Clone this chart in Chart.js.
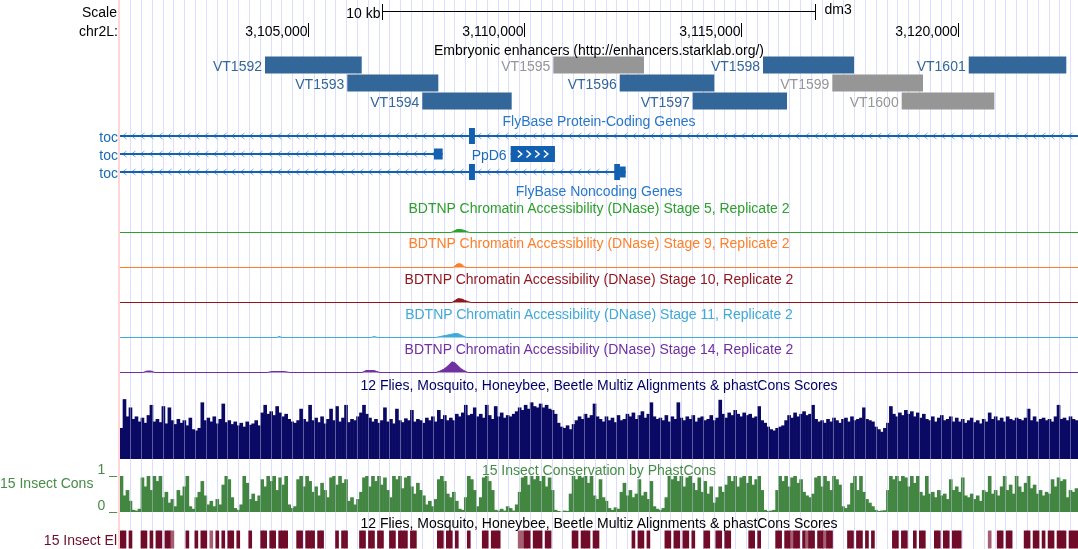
<!DOCTYPE html>
<html>
<head>
<meta charset="utf-8">
<title>chr2L:3,100,650-3,122,770</title>
<script src="https://cdn.jsdelivr.net/npm/chart.js@4.4.1/dist/chart.umd.min.js"></script>
<style>
  html, body { margin: 0; padding: 0; background: #fff; }
  #browser { position: relative; width: 1078px; height: 549px; overflow: hidden;
             font: 14px 'Liberation Sans', Arial, sans-serif; color: #000; }
  #browser canvas { position: absolute; left: 0; top: 0; }
  .lbl { position: absolute; line-height: 14px; white-space: nowrap; }
  .title { left: 120px; width: 958px; text-align: center; }
  .side { left: 0; width: 118px; text-align: right; }
  #edge { position: absolute; left: 118px; top: 0; width: 2px; height: 549px; background: rgb(255, 214, 214); }
</style>
</head>
<body>
<div id="browser">
  <canvas id="chart" width="1078" height="549"></canvas>
  <div id="edge"></div>
  <div class="lbl side" style="top:5px;width:117px">Scale</div>
  <div class="lbl side" style="top:24px">chr2L:</div>
  <div class="lbl title" style="top:43px">Embryonic enhancers (http://enhancers.starklab.org/)</div>
  <div class="lbl title" style="top:114px;color:rgb(40,120,200)">FlyBase Protein-Coding Genes</div>
  <div class="lbl side" style="top:130px;color:rgb(26,106,186)">toc</div>
  <div class="lbl side" style="top:148px;color:rgb(26,106,186)">toc</div>
  <div class="lbl side" style="top:166px;color:rgb(26,106,186)">toc</div>
  <div class="lbl title" style="top:184px;color:rgb(40,120,200)">FlyBase Noncoding Genes</div>
  <div class="lbl title" style="top:201px;color:rgb(44,160,44)">BDTNP Chromatin Accessibility (DNase) Stage 5, Replicate 2</div>
  <div class="lbl title" style="top:236px;color:rgb(255,127,39)">BDTNP Chromatin Accessibility (DNase) Stage 9, Replicate 2</div>
  <div class="lbl title" style="top:272px;color:rgb(145,22,28)">BDTNP Chromatin Accessibility (DNase) Stage 10, Replicate 2</div>
  <div class="lbl title" style="top:307px;color:rgb(65,170,215)">BDTNP Chromatin Accessibility (DNase) Stage 11, Replicate 2</div>
  <div class="lbl title" style="top:342px;color:rgb(112,48,160)">BDTNP Chromatin Accessibility (DNase) Stage 14, Replicate 2</div>
  <div class="lbl title" style="top:378px;color:rgb(0,0,100)">12 Flies, Mosquito, Honeybee, Beetle Multiz Alignments &amp; phastCons Scores</div>
  <div class="lbl title" style="top:463px;color:rgb(70,140,70)">15 Insect Conservation by PhastCons</div>
  <div class="lbl" style="top:476px;left:0;color:rgb(70,140,70)">15 Insect Cons</div>
  <div class="lbl title" style="top:516px">12 Flies, Mosquito, Honeybee, Beetle Multiz Alignments &amp; phastCons Scores</div>
  <div class="lbl side" style="top:533px;width:117px;color:rgb(112,12,42)">15 Insect El</div>
</div>
<script>
// visible window, chr2L (dm3)
const X_MIN = 3100650;
const X_MAX = 3122770;
const RULER_TICKS = [3105000, 3110000, 3115000, 3120000];
const SCALE_BAR = [3106710, 3116710];

// Embryonic enhancers (VT tiles)
const ENH_NAME = ['VT1592', 'VT1593', 'VT1594', 'VT1595', 'VT1596', 'VT1597', 'VT1598', 'VT1599', 'VT1600', 'VT1601'];
const ENH_START = [3103998, 3105898, 3107630, 3110655, 3112188, 3113874, 3115497, 3117097, 3118699, 3120247];
const ENH_END = [3106231, 3108000, 3109694, 3112749, 3114372, 3116051, 3117598, 3119191, 3120838, 3122500];
const ENH_ROW = [1, 2, 3, 1, 2, 3, 1, 2, 3, 1];
const ENH_ACTIVE = [1, 1, 1, 0, 1, 1, 1, 0, 0, 1];

// FlyBase transcripts
const GENE_NAME = ['toc', 'toc', 'toc', 'PpD6'];
const GENE_ROW = [1, 2, 3, 2];
const GENE_STRAND = ['-', '-', '-', '+'];
const GENE_START = [3100400, 3100400, 3100400, 3109670];
const GENE_END = [3123000, 3108100, 3112326, 3110693];

const EXON_GENE = [0, 1, 2, 2, 2, 3];
const EXON_START = [3108708, 3107900, 3108708, 3112062, 3112194, 3109670];
const EXON_END = [3108846, 3108100, 3108846, 3112194, 3112326, 3110693];
const EXON_CODING = [1, 0, 1, 1, 0, 1];

// BDTNP DNase signal, [position, signal]
const DNASE_S5 = [[3100650, 0], [3108292, 0], [3108361, 1.5], [3108431, 3], [3108523, 3], [3108615, 2], [3108685, 0.5], [3108731, 0], [3122770, 0]];
const DNASE_S9 = [[3100650, 0], [3108338, 0], [3108384, 1.5], [3108431, 3.5], [3108500, 4], [3108546, 3], [3108592, 1], [3108639, 0], [3122770, 0]];
const DNASE_S10 = [[3100650, 0], [3108315, 0], [3108384, 2], [3108454, 4], [3108546, 3.5], [3108615, 2], [3108685, 1], [3108754, 0], [3122770, 0]];
const DNASE_S11 = [[3100650, 0], [3104275, 0], [3104321, 1.2], [3104390, 0], [3106445, 0], [3106515, 1], [3106607, 0],
  [3107946, 0], [3108039, 1], [3108154, 2], [3108269, 3], [3108361, 4], [3108454, 4], [3108523, 2.5], [3108592, 1], [3108662, 0], [3122770, 0]];
const DNASE_S14 = [[3100650, 0], [3101181, 0], [3101273, 1.5], [3101366, 1.5], [3101458, 0], [3104044, 0], [3104160, 1], [3104437, 1], [3104575, 0],
  [3106238, 0], [3106330, 2], [3106515, 2], [3106653, 0], [3107946, 0], [3108039, 1.5], [3108131, 3.5], [3108200, 6], [3108269, 9],
  [3108315, 11], [3108384, 10], [3108454, 7], [3108523, 4], [3108592, 2], [3108685, 0], [3122770, 0]];

// Multiz / phastCons summary, 320 equal windows across the view (percent of track height)
const MULTIZ = [
  48, 93, 66, 80, 62, 66, 58, 64, 56, 68,  84, 58, 62, 57, 82, 55, 80, 60, 54, 62,
  56, 60, 52, 64, 46, 44, 48, 88, 60, 64,  58, 66, 55, 62, 86, 57, 60, 54, 58, 52,
  56, 50, 58, 53, 55, 60, 52, 72, 84, 70,  74, 68, 82, 72, 66, 70, 62, 58, 56, 60,
  78, 62, 58, 84, 60, 64, 57, 66, 55, 62,  78, 60, 82, 58, 64, 84, 57, 62, 60, 66,
  72, 84, 70, 64, 58, 62, 56, 60, 80, 58,  62, 55, 78, 60, 57, 63, 60, 76, 58, 62,
  60, 56, 64, 60, 66, 58, 76, 62, 68, 60,  64, 60, 70, 66, 72, 84, 68, 70, 80, 66,
  70, 64, 84, 68, 62, 82, 66, 72, 64, 68,  66, 70, 74, 80, 76, 84, 78, 88, 82, 80,
  86, 80, 84, 78, 76, 70, 56, 50, 48, 52,  46, 54, 60, 66, 62, 70, 64, 68, 86, 66,
  62, 58, 66, 60, 64, 57, 68, 60, 62, 70,  66, 72, 62, 68, 74, 64, 70, 88, 66, 62,
  64, 60, 68, 58, 66, 62, 88, 64, 60, 66,  62, 68, 58, 64, 66, 60, 62, 68, 60, 64,
  92, 70, 64, 72, 68, 76, 70, 66, 72, 68,  70, 64, 66, 82, 60, 56, 50, 46, 44, 48,
  50, 52, 60, 68, 64, 72, 66, 70, 74, 68,  70, 84, 62, 58, 60, 56, 62, 58, 64, 60,
  56, 62, 64, 58, 66, 60, 62, 64, 80, 62,  60, 58, 50, 46, 42, 48, 56, 82, 70, 66,
  72, 68, 76, 70, 74, 66, 72, 64, 70, 62,  60, 66, 58, 64, 68, 60, 62, 66, 58, 64,
  58, 62, 56, 60, 64, 57, 60, 55, 62, 58,  72, 62, 66, 60, 64, 58, 66, 62, 60, 64,
  62, 60, 64, 78, 60, 66, 58, 62, 64, 60,  62, 58, 66, 84, 62, 64, 60, 66, 62, 60
];
const PHASTCONS = [
  100, 45, 60, 30, 5, 3, 8, 95, 70, 100,  60, 100, 85, 100, 40, 55, 25, 35, 15, 60,
  45, 70, 100, 15, 8, 40, 55, 85, 45, 20,  30, 15, 35, 20, 75, 100, 90, 40, 10, 5,
  20, 100, 80, 35, 50, 30, 45, 90, 70, 100,  85, 100, 60, 95, 75, 100, 20, 10, 15, 90,
  100, 70, 100, 85, 55, 70, 45, 80, 60, 40,  95, 100, 75, 100, 80, 90, 30, 40, 20, 35,
  55, 95, 100, 70, 100, 85, 100, 75, 95, 60,  40, 100, 90, 100, 65, 95, 100, 70, 50, 80,
  60, 45, 20, 30, 15, 35, 90, 100, 85, 50,  40, 55, 30, 8, 5, 40, 100, 90, 60, 15,
  40, 95, 100, 85, 60, 5, 3, 8, 3, 15,  10, 3, 20, 55, 95, 100, 75, 100, 90, 100,
  85, 100, 70, 95, 60, 5, 2, 0, 3, 2,  50, 100, 90, 100, 95, 100, 80, 100, 45, 35,
  90, 40, 30, 10, 5, 12, 8, 55, 80, 45,  60, 40, 50, 90, 45, 55, 35, 85, 15, 8,
  5, 10, 40, 100, 90, 100, 85, 100, 70, 95,  100, 80, 60, 95, 55, 85, 50, 70, 25, 40,
  70, 55, 75, 100, 85, 100, 70, 95, 100, 80,  100, 75, 90, 100, 60, 5, 2, 3, 5, 60,
  100, 85, 100, 70, 95, 100, 80, 90, 55, 45,  40, 50, 95, 100, 70, 100, 85, 60, 100, 90,
  75, 15, 10, 20, 80, 100, 60, 100, 55, 35,  25, 15, 5, 2, 3, 4, 60, 100, 90, 100,
  85, 100, 95, 70, 100, 80, 100, 55, 45, 100,  50, 55, 40, 60, 45, 50, 35, 90, 60, 70,
  55, 95, 45, 40, 50, 35, 45, 30, 60, 55,  100, 50, 60, 45, 70, 100, 60, 75, 50, 100,
  70, 55, 80, 100, 65, 75, 50, 60, 45, 55,  50, 90, 70, 95, 85, 90, 40, 60, 55, 65
];
// conserved elements per window: 0 none, 1 element, 2 weak element
const ELEMENTS = [
  1, 1, 0, 1, 0, 0, 0, 1, 1, 0,  1, 0, 1, 1, 0, 1, 1, 2, 0, 0,
  0, 0, 1, 0, 0, 1, 0, 1, 1, 0,  2, 0, 1, 0, 1, 0, 1, 1, 0, 1,
  0, 0, 0, 1, 0, 0, 0, 1, 1, 0,  1, 1, 0, 1, 1, 1, 0, 0, 0, 1,
  1, 0, 1, 1, 1, 0, 1, 1, 0, 0,  0, 0, 1, 0, 1, 1, 0, 0, 0, 0,
  1, 1, 0, 1, 1, 0, 1, 1, 0, 0,  1, 1, 0, 1, 1, 1, 0, 1, 1, 0,
  0, 0, 0, 0, 0, 0, 1, 1, 0, 1,  1, 0, 1, 0, 0, 0, 1, 0, 0, 0,
  0, 1, 1, 0, 1, 1, 1, 0, 0, 0,  0, 0, 0, 2, 2, 1, 1, 0, 1, 1,
  1, 0, 1, 1, 0, 0, 0, 0, 0, 0,  0, 1, 1, 0, 1, 1, 1, 0, 1, 1,
  0, 0, 0, 0, 0, 0, 0, 0, 0, 0,  0, 1, 0, 1, 1, 0, 1, 0, 0, 0,
  0, 0, 1, 1, 0, 1, 1, 0, 1, 1,  0, 1, 0, 0, 0, 1, 1, 0, 0, 1,
  1, 0, 1, 1, 0, 0, 0, 0, 0, 0,  1, 1, 0, 1, 0, 0, 0, 0, 0, 1,
  1, 0, 1, 1, 2, 1, 1, 0, 1, 2,  1, 1, 0, 1, 1, 2, 1, 1, 0, 0,
  0, 0, 0, 1, 1, 0, 1, 1, 0, 1,  0, 1, 0, 0, 0, 0, 0, 0, 1, 1,
  0, 1, 1, 0, 0, 1, 0, 1, 1, 0,  0, 0, 1, 1, 0, 1, 1, 0, 1, 1,
  1, 0, 0, 0, 0, 0, 0, 0, 0, 0,  2, 0, 0, 1, 1, 0, 1, 1, 0, 0,
  0, 0, 1, 1, 0, 1, 1, 0, 1, 0,  1, 1, 0, 1, 1, 1, 0, 1, 1, 1
];

// ---- styling ----
const FONT = "14px 'Liberation Sans', Arial, sans-serif";
const C = {
  guide: 'rgb(222,222,255)',
  enh: 'rgb(51,102,153)', enhOff: 'rgb(150,150,150)',
  gene: 'rgb(20,96,176)', arrow: 'rgb(120,170,225)', geneLabel: 'rgb(26,106,186)',
  s5: 'rgb(44,160,44)', s9: 'rgb(255,127,39)', s10: 'rgb(145,22,28)', s11: 'rgb(65,170,215)', s14: 'rgb(112,48,160)',
  navy: 'rgb(10,10,100)', cons: 'rgb(66,134,66)', consText: 'rgb(70,140,70)',
  el: 'rgb(112,12,42)', elLight: 'rgb(165,95,115)'
};
const GUIDE_FIRST = 3100896;
const GUIDE_STEP = 249.5;
const LABEL_AREA = 120;

// vertical layout of the tracks, top to bottom, in pixels
const LAYOUT = [
  ['padTop', 56], ['yEnh', 54], ['padGenes', 17], ['yGene', 54],
  ['padS5', 36], ['yS5', 16], ['padS9', 19], ['yS9', 16], ['padS10', 19], ['yS10', 16],
  ['padS11', 19], ['yS11', 16], ['padS14', 19], ['yS14', 16],
  ['padMz', 22], ['yMz', 64], ['padCons', 17], ['yCons', 36], ['padEl', 18], ['yEl', 19]
];
const RANGE = {
  yEnh: { min: 0.5, max: 3.5, reverse: true },
  yGene: { min: 0.5, max: 3.5, reverse: true },
  yS5: { min: -0.5, max: 16 }, yS9: { min: -0.5, max: 16 }, yS10: { min: -0.5, max: 16 },
  yS11: { min: -0.5, max: 16 }, yS14: { min: -0.5, max: 16 },
  yMz: { min: 0, max: 100 }, yCons: { min: 0, max: 100 }, yEl: { min: -0.05, max: 1.05 }
};

Chart.defaults.font.family = "'Liberation Sans', Arial, sans-serif";
Chart.defaults.font.size = 14;

const scales = {
  x: {
    type: 'linear', min: X_MIN, max: X_MAX, offset: false,
    grid: { color: C.guide, lineWidth: 1, drawTicks: false, offset: false },
    border: { display: false },
    ticks: { display: false },
    afterBuildTicks: s => {
      const t = [];
      for (let v = GUIDE_FIRST; v <= X_MAX; v += GUIDE_STEP) t.push({ value: v });
      s.ticks = t;
    }
  },
  xb: { type: 'category', labels: MULTIZ.map((_, i) => String(i)), display: false, offset: true }
};
// every track axis takes the full label column, so the plot starts right of it
const labelColumn = s => { s.width = LABEL_AREA; s.paddingTop = 0; s.paddingBottom = 0; };
LAYOUT.forEach(([id, h], i) => {
  scales[id] = Object.assign({
    type: 'linear', position: 'left', stack: 'tracks', stackWeight: h,
    weight: LAYOUT.length - i, display: false, offset: false, min: 0, max: 1,
    afterFit: labelColumn
  }, RANGE[id] || {});
});
// the "1 _" / "0 _" labels of the conservation track
Object.assign(scales.yCons, {
  display: true,
  grid: { display: false, drawTicks: false },
  border: { display: false },
  ticks: { color: C.consText, padding: 3, labelOffset: -6, autoSkip: false, callback: v => (v / 100) + ' _' },
  afterBuildTicks: s => { s.ticks = [{ value: 0 }, { value: 100 }]; }
});

const hbar = (axis, color, thick, data) => ({
  type: 'bar', indexAxis: 'y', xAxisID: 'x', yAxisID: axis, data,
  backgroundColor: color, barThickness: thick, grouped: false, inflateAmount: 0, borderWidth: 0
});
const signal = (axis, color, pts) => ({
  type: 'line', xAxisID: 'x', yAxisID: axis, data: pts.map(([x, y]) => ({ x, y })),
  borderColor: color, backgroundColor: color, borderWidth: 1, fill: 'origin',
  pointRadius: 0, tension: 0, clip: false
});
const bins = (axis, data, color) => ({
  type: 'bar', xAxisID: 'xb', yAxisID: axis, data, backgroundColor: color,
  barPercentage: 1, categoryPercentage: 1, grouped: false, borderWidth: 0
});

const exonData = coding => EXON_GENE
  .map((g, k) => ({ x: [EXON_START[k], EXON_END[k]], y: GENE_ROW[g], coding: EXON_CODING[k] }))
  .filter(e => e.coding === coding);

const datasets = [
  hbar('yEnh', ENH_ACTIVE.map(a => a ? C.enh : C.enhOff), 17,
    ENH_NAME.map((n, i) => ({ x: [ENH_START[i], ENH_END[i]], y: ENH_ROW[i] }))),
  hbar('yGene', C.gene, 2, GENE_NAME.map((n, i) => ({ x: [GENE_START[i], GENE_END[i]], y: GENE_ROW[i] }))),
  hbar('yGene', C.gene, 11, exonData(0)),
  hbar('yGene', C.gene, 16, exonData(1)),
  signal('yS5', C.s5, DNASE_S5),
  signal('yS9', C.s9, DNASE_S9),
  signal('yS10', C.s10, DNASE_S10),
  signal('yS11', C.s11, DNASE_S11),
  signal('yS14', C.s14, DNASE_S14),
  bins('yMz', MULTIZ, C.navy),
  bins('yCons', PHASTCONS, C.cons),
  bins('yEl', ELEMENTS.map(v => v ? 1 : null), ELEMENTS.map(v => v === 2 ? C.elLight : C.el))
];

function chevron(ctx, tip, cy, dir, w, h) {
  ctx.moveTo(tip - dir * w, cy - h);
  ctx.lineTo(tip, cy);
  ctx.lineTo(tip - dir * w, cy + h);
}
const gridPx = (scale, v) => Math.round(scale.getPixelForValue(v) - 0.5) + 0.5;
const commas = v => String(v).replace(/\B(?=(\d{3})+(?!\d))/g, ',');

const browserMarks = {
  id: 'browserMarks',
  beforeDatasetsDraw(chart) {
    // strand arrows along the intron lines
    const { ctx, chartArea: a, scales: s } = chart;
    ctx.save();
    ctx.beginPath(); ctx.rect(a.left, a.top, a.width, a.height); ctx.clip();
    ctx.strokeStyle = C.arrow; ctx.lineWidth = 1;
    ctx.beginPath();
    GENE_NAME.forEach((n, g) => {
      const x0 = Math.max(s.x.getPixelForValue(GENE_START[g]), a.left);
      const x1 = Math.min(s.x.getPixelForValue(GENE_END[g]), a.right);
      const cy = Math.round(s.yGene.getPixelForValue(GENE_ROW[g]));
      const dir = GENE_STRAND[g] === '-' ? -1 : 1;
      for (let t = x0 + 2; t + 4 <= x1; t += 9.1) {
        const tip = Math.round(t) + 0.5;
        chevron(ctx, dir < 0 ? tip : tip + 4, cy, dir, 4, 3);
      }
    });
    ctx.stroke();
    ctx.restore();
  },
  afterDatasetsDraw(chart) {
    const { ctx, scales: s } = chart;
    const xs = s.x;
    ctx.save();

    // guidelines showing through the wiggle tracks
    ctx.globalCompositeOperation = 'source-atop';
    ctx.strokeStyle = 'rgba(215,215,255,0.4)';
    ctx.lineWidth = 1;
    ctx.beginPath();
    ['yMz', 'yCons'].forEach(id => {
      xs.ticks.forEach(t => {
        const px = gridPx(xs, t.value);
        ctx.moveTo(px, s[id].top); ctx.lineTo(px, s[id].bottom);
      });
    });
    ctx.stroke();
    ctx.globalCompositeOperation = 'source-over';

    // white strand chevrons inside wide coding exons
    ctx.strokeStyle = '#fff'; ctx.lineWidth = 1.5;
    ctx.beginPath();
    EXON_GENE.forEach((g, k) => {
      if (!EXON_CODING[k]) return;
      const x0 = xs.getPixelForValue(EXON_START[k]);
      const x1 = xs.getPixelForValue(EXON_END[k]);
      const n = Math.floor((x1 - x0 - 8) / 9);
      if (n < 1) return;
      const dir = GENE_STRAND[g] === '-' ? -1 : 1;
      const cy = Math.round(s.yGene.getPixelForValue(GENE_ROW[g]));
      const span = (n - 1) * 8.7 + 4;
      const first = (x0 + x1) / 2 - span / 2;
      for (let i = 0; i < n; i++) {
        const left = first + i * 8.7;
        chevron(ctx, dir > 0 ? left + 4 : left, cy, dir, 4, 3.5);
      }
    });
    ctx.stroke();

    ctx.font = FONT;
    ctx.textBaseline = 'alphabetic';

    // enhancer names
    ctx.textAlign = 'right';
    ENH_NAME.forEach((n, i) => {
      ctx.fillStyle = ENH_ACTIVE[i] ? C.enh : C.enhOff;
      ctx.fillText(n, xs.getPixelForValue(ENH_START[i]) - 3, s.yEnh.getPixelForValue(ENH_ROW[i]) + 5.5);
    });
    // gene names drawn next to their model (plus strand only, toc is on the side)
    ctx.fillStyle = C.geneLabel;
    GENE_NAME.forEach((n, g) => {
      if (GENE_STRAND[g] !== '+') return;
      ctx.fillText(n, xs.getPixelForValue(GENE_START[g]) - 4, s.yGene.getPixelForValue(GENE_ROW[g]) + 6);
    });

    // base position ruler
    ctx.fillStyle = '#000'; ctx.strokeStyle = '#000'; ctx.lineWidth = 1;
    ctx.beginPath();
    RULER_TICKS.forEach(v => {
      const px = gridPx(xs, v);
      ctx.moveTo(px, 23); ctx.lineTo(px, 37);
      ctx.fillText(commas(v), px - 1, 36);
    });
    const b0 = gridPx(xs, SCALE_BAR[0]);
    const b1 = gridPx(xs, SCALE_BAR[1]);
    ctx.moveTo(b0, 11.5); ctx.lineTo(b1, 11.5);
    ctx.moveTo(b0, 4); ctx.lineTo(b0, 20);
    ctx.moveTo(b1, 4); ctx.lineTo(b1, 20);
    ctx.stroke();
    ctx.fillText((SCALE_BAR[1] - SCALE_BAR[0]) / 1000 + ' kb', b0 - 2, 17.5);
    ctx.textAlign = 'left';
    ctx.fillText('dm3', b1 + 9, 13.5);
    ctx.restore();
  }
};

new Chart(document.getElementById('chart'), {
  type: 'bar',
  data: { datasets },
  options: {
    responsive: false,
    animation: false,
    devicePixelRatio: 1,
    events: [],
    layout: { padding: 0 },
    plugins: { legend: { display: false }, tooltip: { enabled: false } },
    scales
  },
  plugins: [browserMarks]
});
</script>
</body>
</html>
